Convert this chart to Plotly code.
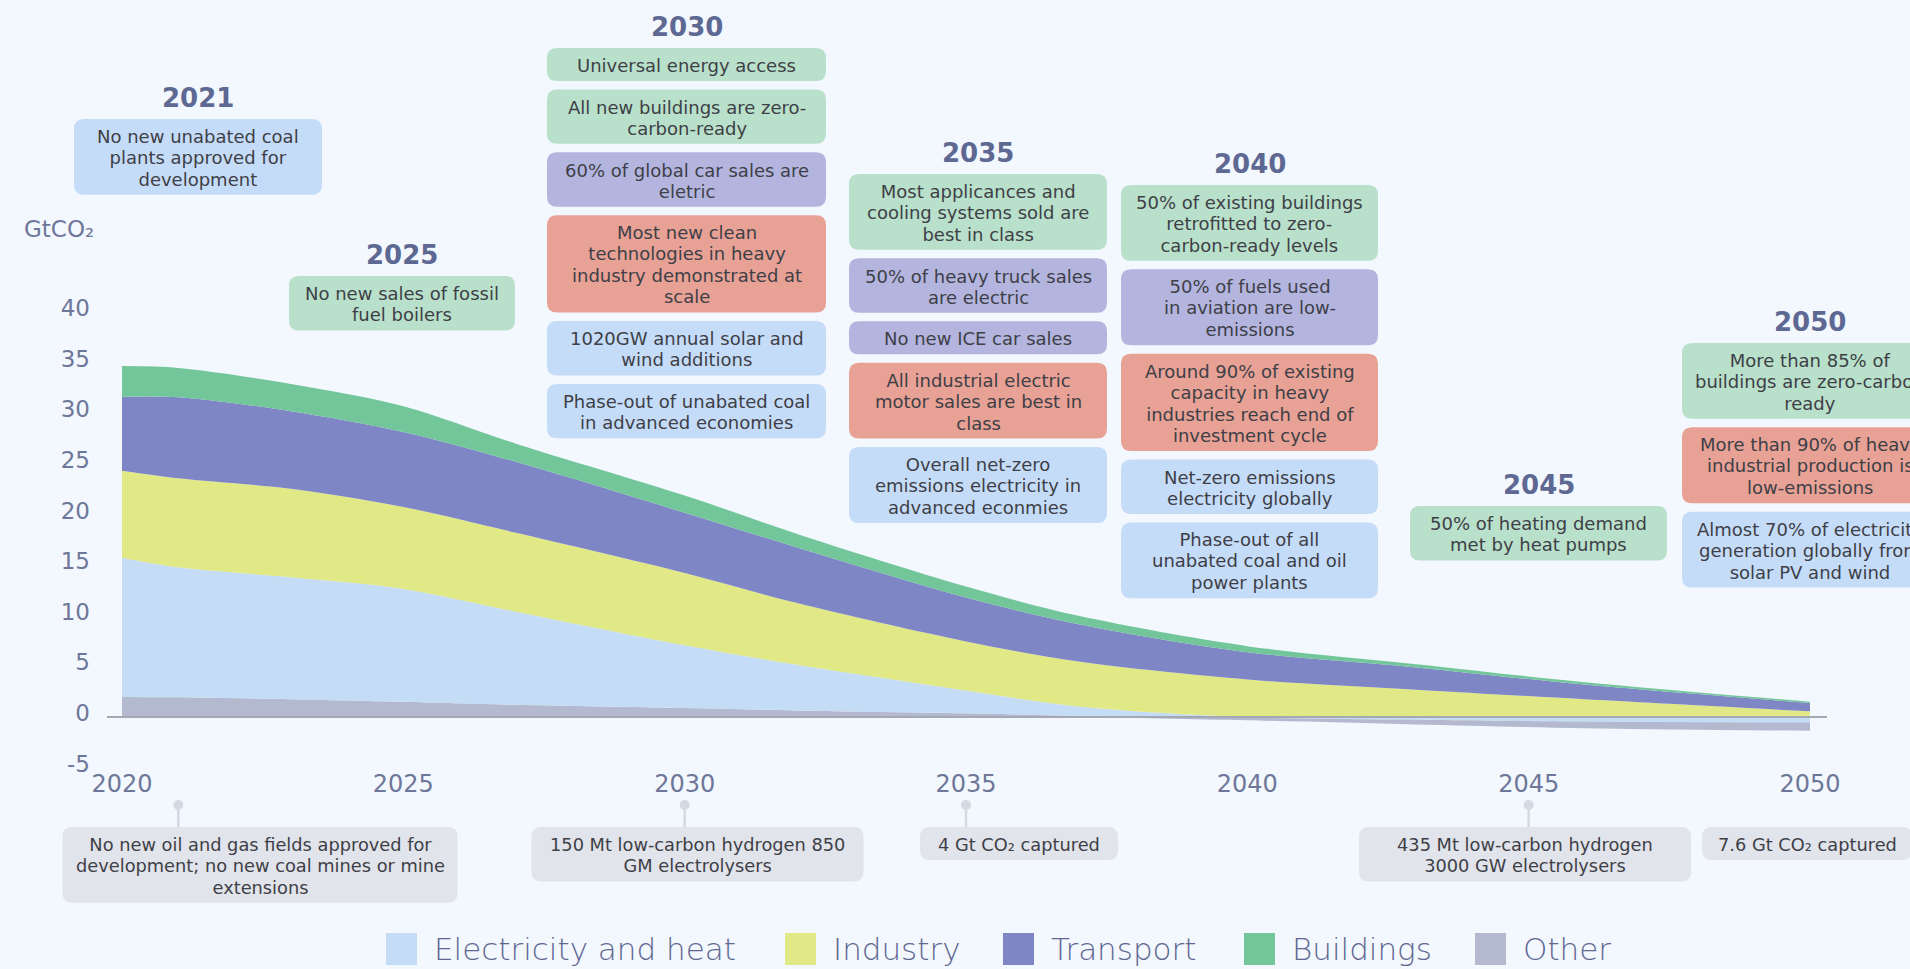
import numpy as np
import plotly.graph_objects as go

# ---------------- data ----------------
years = [2020, 2021, 2023, 2025, 2027, 2030, 2032, 2035, 2037, 2040, 2043, 2046, 2050]
electricity = [13.76, 12.84, 12.05, 11.15, 9.2, 6.2, 4.5, 2.25, 0.9, -0.08, -0.28, -0.45, -0.55]
industry = [8.59, 8.79, 8.75, 8.1, 7.8, 7.15, 6.1, 4.85, 4.44, 3.7, 2.7, 1.75, 0.56]
transport = [7.3, 8.0, 7.65, 7.4, 7.0, 5.95, 5.5, 4.35, 3.7, 2.7, 2.2, 1.45, 0.82]
buildings = [3.03, 2.9, 2.7, 2.55, 1.8, 1.7, 1.33, 1.08, 0.82, 0.6, 0.32, 0.24, 0.13]
other = [1.98, 1.95, 1.75, 1.5, 1.2, 0.88, 0.65, 0.36, 0.13, -0.25, -0.45, -0.65, -0.8]

series_names = ["Electricity and heat", "Industry", "Transport", "Buildings", "Other"]
x_ticks = [2020, 2025, 2030, 2035, 2040, 2045, 2050]
y_ticks = [-5, 0, 5, 10, 15, 20, 25, 30, 35, 40]
y_ticktext = ["-5", "0", "5", "10", "15", "20", "25", "30", "35", "40"]
unit_label = "GtCO₂"

milestone_years = ["2021", "2025", "2030", "2035", "2040", "2045", "2050"]
milestones = {
    "2021": [("e", ["No new unabated coal", "plants approved for", "development"])],
    "2025": [("b", ["No new sales of fossil", "fuel boilers"])],
    "2030": [("b", ["Universal energy access"]),
             ("b", ["All new buildings are zero-", "carbon-ready"]),
             ("t", ["60% of global car sales are", "eletric"]),
             ("i", ["Most new clean", "technologies in heavy", "industry demonstrated at", "scale"]),
             ("e", ["1020GW annual solar and", "wind additions"]),
             ("e", ["Phase-out of unabated coal", "in advanced economies"])],
    "2035": [("b", ["Most applicances and", "cooling systems sold are", "best in class"]),
             ("t", ["50% of heavy truck sales", "are electric"]),
             ("t", ["No new ICE car sales"]),
             ("i", ["All industrial electric", "motor sales are best in", "class"]),
             ("e", ["Overall net-zero", "emissions electricity in", "advanced econmies"])],
    "2040": [("b", ["50% of existing buildings", "retrofitted to zero-", "carbon-ready levels"]),
             ("t", ["50% of fuels used", "in aviation are low-", "emissions"]),
             ("i", ["Around 90% of existing", "capacity in heavy", "industries reach end of", "investment cycle"]),
             ("e", ["Net-zero emissions", "electricity globally"]),
             ("e", ["Phase-out of all", "unabated coal and oil", "power plants"])],
    "2045": [("b", ["50% of heating demand", "met by heat pumps"])],
    "2050": [("b", ["More than 85% of", "buildings are zero-carbon", "ready"]),
             ("i", ["More than 90% of heavy", "industrial production is", "low-emissions"]),
             ("e", ["Almost 70% of electricity", "generation globally from", "solar PV and wind"])],
}

note_years = [2021, 2030, 2035, 2045, 2050]
note_texts = [["No new oil and gas fields approved for", "development; no new coal mines or mine", "extensions"],
              ["150 Mt low-carbon hydrogen 850", "GM electrolysers"],
              ["4 Gt CO₂ captured"],
              ["435 Mt low-carbon hydrogen", "3000 GW electrolysers"],
              ["7.6 Gt CO₂ captured"]]
note_has_marker = [True, True, True, True, False]

# ---------------- styles / layout ----------------
TXT_FONT = "DejaVu Sans"
NUM_FONT = "DejaVu Sans"
BG = "#F3F7FE"
AXIS_C = "#6E7799"
LEG_C = "#5F6891"
HEAD_C = "#5D6893"
TEXT_C = "#3E3F47"
area_colors = {"Electricity and heat": "#C5DCF7", "Industry": "#E1E886",
               "Transport": "#7F86C6", "Buildings": "#72C69A", "Other": "#B3B9CE"}
box_colors = {"b": "#B9E0CA", "t": "#B3B5DF", "i": "#E8A195", "e": "#C5DCF8"}
NOTE_BG = "#E1E4EA"
MARK_C = "#D5D9E1"

W, H = 1910, 969
L, R, T, B = 107, 1827, 280, 768  # plot area in pixels
PW, PH = R - L, B - T
ZERO_PX = 717
PX_PER_UNIT = 10.125
BASE_FONT = 16.5          # plotly line spacing 1.3em -> ~21.5 px per line
LINE_H = BASE_FONT * 1.3
GLYPH_BOX = 18            # visible glyph size inside boxes
GLYPH_NOTE = 17.8
GAP = 8.5


def px(x):
    return (x - L) / PW


def py(y):
    return (B - y) / PH


def rrect(x0, y0, x1, y1, r=10):
    def P(x, y):
        return f"{px(x):.6f},{py(y):.6f}"
    return ("M" + P(x0 + r, y0) + " L" + P(x1 - r, y0) + " Q" + P(x1, y0) + " " + P(x1, y0 + r)
            + " L" + P(x1, y1 - r) + " Q" + P(x1, y1) + " " + P(x1 - r, y1)
            + " L" + P(x0 + r, y1) + " Q" + P(x0, y1) + " " + P(x0, y1 - r)
            + " L" + P(x0, y0 + r) + " Q" + P(x0, y0) + " " + P(x0 + r, y0) + " Z")


def block(lines, size):
    return "<br>".join(f'<span style="font-size:{size}px">{ln}</span>' for ln in lines)


fig = go.Figure()

series_vals = {"Electricity and heat": electricity, "Industry": industry,
               "Transport": transport, "Buildings": buildings, "Other": other}

pos_order = ["Other", "Electricity and heat", "Industry", "Transport", "Buildings"]
for name in pos_order:
    fig.add_trace(go.Scatter(
        x=years, y=np.clip(np.array(series_vals[name]), 0, None), name=name,
        stackgroup="pos", mode="lines", line=dict(width=0, shape="spline", smoothing=0.9),
        fillcolor=area_colors[name], showlegend=False, hoverinfo="x+y+name"))
neg_order = ["Electricity and heat", "Other"]
for name in neg_order:
    fig.add_trace(go.Scatter(
        x=years, y=np.clip(np.array(series_vals[name]), None, 0), name=name,
        stackgroup="neg", mode="lines", line=dict(width=0, shape="spline", smoothing=0.9),
        fillcolor=area_colors[name], showlegend=False, hoverinfo="x+y+name"))

shapes = []
annotations = []

# zero baseline
shapes.append(dict(type="line", xref="paper", yref="y", x0=0, x1=1, y0=0, y1=0,
                   line=dict(color="#A4A8B2", width=2), layer="above"))

# milestone columns (pixel layout)
col_cx = {"2021": 198, "2025": 402, "2030": 686.5, "2035": 978, "2040": 1249.5, "2045": 1538.5, "2050": 1810}
col_w = {"2021": 248, "2025": 226, "2030": 279, "2035": 258, "2040": 257, "2045": 257, "2050": 256}
col_head_y = {"2021": 98, "2025": 255, "2030": 27, "2035": 153, "2040": 164, "2045": 485, "2050": 322}

for yr in milestone_years:
    cx, w, hy = col_cx[yr], col_w[yr], col_head_y[yr]
    annotations.append(dict(x=px(cx), y=py(hy), xref="paper", yref="paper", text="<b>" + yr + "</b>",
                            showarrow=False, xanchor="center", yanchor="middle",
                            font=dict(family=NUM_FONT, size=26, color=HEAD_C)))
    top = hy + 21
    for cat, lines in milestones[yr]:
        h = 11.5 + LINE_H * len(lines)
        shapes.append(dict(type="path", xref="paper", yref="paper",
                           path=rrect(cx - w / 2, top, cx + w / 2, top + h),
                           fillcolor=box_colors[cat], line=dict(width=0), layer="above"))
        annotations.append(dict(x=px(cx), y=py(top + h / 2 + 1), xref="paper", yref="paper",
                                text=block(lines, GLYPH_BOX), showarrow=False, align="center",
                                xanchor="center", yanchor="middle", borderpad=0,
                                font=dict(family=TXT_FONT, size=BASE_FONT, color=TEXT_C)))
        top += h + GAP

# bottom notes
note_cx = [260, 697.5, 1019, 1525, 1807]
note_w = [395, 332, 198, 332, 210]
NOTE_TOP = 827
for k, yr in enumerate(note_years):
    lines = note_texts[k]
    h = 11.5 + LINE_H * len(lines)
    cx, w = note_cx[k], note_w[k]
    shapes.append(dict(type="path", xref="paper", yref="paper",
                       path=rrect(cx - w / 2, NOTE_TOP, cx + w / 2, NOTE_TOP + h),
                       fillcolor=NOTE_BG, line=dict(width=0), layer="above"))
    annotations.append(dict(x=px(cx), y=py(NOTE_TOP + h / 2 + 1), xref="paper", yref="paper",
                            text=block(lines, GLYPH_NOTE), showarrow=False, align="center",
                            xanchor="center", yanchor="middle", borderpad=0,
                            font=dict(family=TXT_FONT, size=BASE_FONT, color=TEXT_C)))
    if note_has_marker[k]:
        shapes.append(dict(type="line", xref="x", yref="paper", x0=yr, x1=yr,
                           y0=py(805), y1=py(NOTE_TOP), line=dict(color=MARK_C, width=2.5), layer="above"))
        shapes.append(dict(type="circle", xref="x", yref="paper", xsizemode="pixel", xanchor=yr,
                           x0=-5, x1=5, y0=py(810), y1=py(800),
                           fillcolor=MARK_C, line=dict(width=0), layer="above"))

# unit label
annotations.append(dict(x=px(22), y=py(229), xref="paper", yref="paper", text=unit_label,
                        showarrow=False, xanchor="left", yanchor="middle",
                        font=dict(family=NUM_FONT, size=23, color=AXIS_C)))

# custom legend with large squares
leg_x = [386, 785, 1003, 1244, 1475]
for k, name in enumerate(series_names):
    x0 = leg_x[k]
    shapes.append(dict(type="rect", xref="paper", yref="paper",
                       x0=px(x0), x1=px(x0 + 31), y0=py(965), y1=py(933),
                       fillcolor=area_colors[name], line=dict(width=0), layer="above"))
    annotations.append(dict(x=px(x0 + 46), y=py(949), xref="paper", yref="paper", text=name,
                            showarrow=False, xanchor="left", yanchor="middle",
                            font=dict(family="DejaVu Sans", size=31, color=LEG_C, weight=200)))

x_lo = 2020 - (122 - L) / 56.27
x_hi = 2050 + (R - 1810) / 56.27
y_lo = -(B - ZERO_PX) / PX_PER_UNIT
y_hi = (ZERO_PX - T) / PX_PER_UNIT

fig.update_layout(
    width=W, height=H, autosize=False,
    margin=dict(l=L, r=W - R, t=T, b=H - B, pad=0),
    paper_bgcolor=BG, plot_bgcolor="rgba(0,0,0,0)",
    showlegend=False,
    font=dict(family=TXT_FONT, color=AXIS_C),
    shapes=shapes, annotations=annotations,
    xaxis=dict(range=[x_lo, x_hi], tickvals=x_ticks, ticktext=[str(v) for v in x_ticks],
               showgrid=False, zeroline=False, showline=False, ticks="",
               tickfont=dict(family=NUM_FONT, size=24, color=AXIS_C), ticklabelstandoff=-1),
    yaxis=dict(range=[y_lo, y_hi], tickvals=y_ticks, ticktext=y_ticktext, showgrid=False,
               zeroline=False, showline=False, ticks="",
               tickfont=dict(family=NUM_FONT, size=23, color=AXIS_C),
               ticklabelstandoff=16, ticklabelshift=-4),
)

fig.write_html("out.html", config={"displayModeBar": False},
               post_script="document.body.style.margin='0';document.body.style.background='" + BG + "';")
